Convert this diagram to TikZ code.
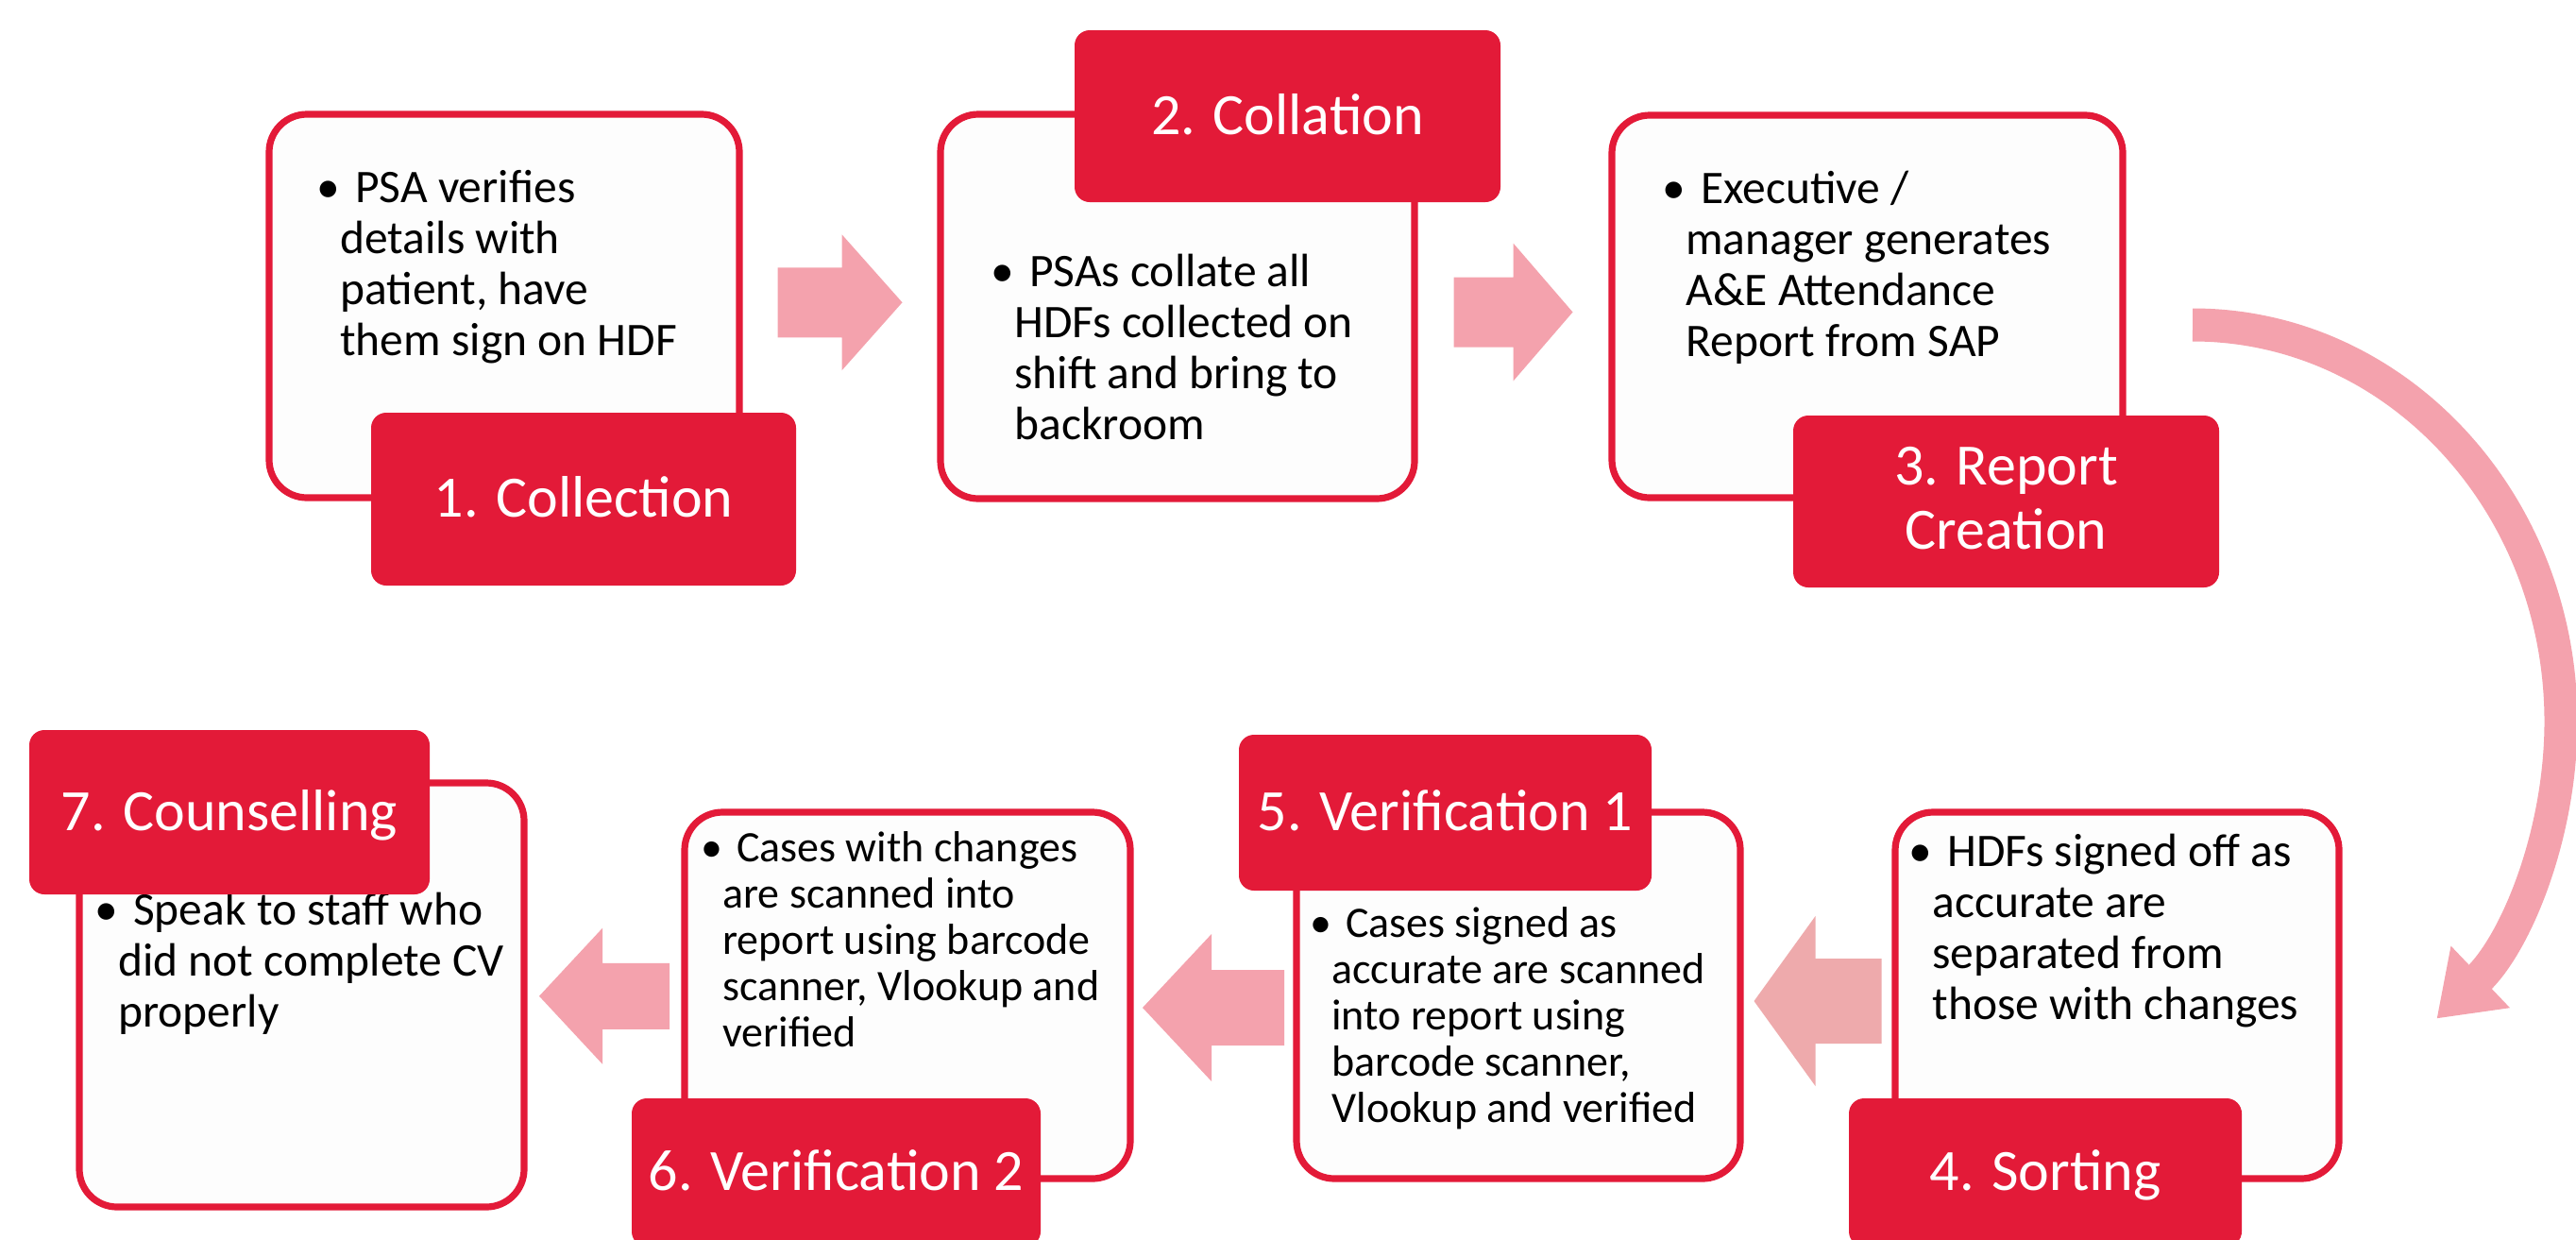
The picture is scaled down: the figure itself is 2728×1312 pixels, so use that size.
\documentclass[tikz,border=0pt]{standalone}
\usepackage{fontspec}
\setmainfont{Carlito}
\usetikzlibrary{calc,fit,arrows.meta}

\definecolor{stepred}{HTML}{E31A38}
\definecolor{flowpink}{HTML}{F4A2AD}
\definecolor{flowpinkb}{HTML}{EEAAAC}
\definecolor{cardfill}{HTML}{FDFDFD}

\tikzset{
  card/.style={draw=stepred, line width=3.6pt, fill=cardfill, rounded corners=20pt, inner sep=0pt},
  steplabel/.style={fill=stepred, rounded corners=8pt, inner sep=0pt},
  steptext/.style={anchor=base, inner sep=0pt, text=white, align=center,
    font=\fontsize{31}{34}\selectfont},
  % multi-line nodes sit on the baseline of their last line
  bodytext/.style={anchor=base west, inner sep=0pt, align=left, text=black},
  bodyL/.style={bodytext, font=\fontsize{24.75}{27}\selectfont},
  bodyS/.style={bodytext, font=\fontsize{23}{24.5}\selectfont},
  % block arrow pointing right: total length / head length / half shaft / half head
  pics/blockarrow/.style args={#1/#2/#3/#4}{code={
    \fill (-#1/2,-#3) -- (#1/2-#2,-#3) -- (#1/2-#2,-#4) -- (#1/2,0)
      -- (#1/2-#2,#4) -- (#1/2-#2,#3) -- (-#1/2,#3) -- cycle;}},
}
\newcommand{\bul}{\llap{\textbullet}\hspace{0.32em}}

\begin{document}
\begin{tikzpicture}[x=0.5pt,y=-0.5pt]
\useasboundingbox (0,0) rectangle (2728,1312);
\clip (0,0) rectangle (2728,1312);
\fill[white] (0,0) rectangle (2728,1312);

% ---- top row: white cards ----
\node[card, fit={(285,121) (783,527)}] (b1) {};
\node[card, fit={(996,121) (1498,528)}] (b2) {};
\node[card, fit={(1707,122) (2248,527)}] (b3) {};

% ---- bottom row: white cards ----
\node[card, fit={(2007,860) (2477,1248)}] (b4) {};
\node[card, fit={(1373,860) (1843,1248)}] (b5) {};
\node[card, fit={(725,860) (1197,1248)}] (b6) {};
\node[card, fit={(84,829) (555,1278)}] (b7) {};

% ---- card texts (positioned by the baseline of the last line) ----
\node[bodyL] (t1) at (360,376) {\bul PSA verifies\\details with\\patient, have\\them sign on HDF};
\node[bodyL] (t2) at (1074,465) {\bul PSAs collate all\\HDFs collected on\\shift and bring to\\backroom};
\node[bodyL] (t3) at (1785,377) {\bul Executive /\\manager generates\\A\&E Attendance\\Report from SAP};
\node[bodyL] (t4) at (2046,1079) {\bul HDFs signed off as\\accurate are\\separated from\\those with changes};
\node[bodyS] (t5) at (1410,1188) {\bul Cases signed as\\accurate are scanned\\into report using\\barcode scanner,\\Vlookup and verified};
\node[bodyS] (t6) at (765,1108) {\bul Cases with changes\\are scanned into\\report using barcode\\scanner, Vlookup and\\verified};
\node[bodyL] (t7) at (125,1087) {\bul Speak to staff who\\did not complete CV\\properly};

% ---- red step labels ----
\node[steplabel, fit={(393,437) (843,620)}] (l1) {};
\node[steplabel, fit={(1138,32) (1589,214)}] (l2) {};
\node[steplabel, fit={(1899,440) (2350,622)}] (l3) {};
\node[steplabel, fit={(1958,1163) (2374,1320)}] (l4) {};
\node[steplabel, fit={(1312,778) (1749,943)}] (l5) {};
\node[steplabel, fit={(669,1163) (1102,1320)}] (l6) {};
\node[steplabel, fit={(31,773) (455,947)}] (l7) {};

\node[steptext] (s1) at ($(l1.center)+(0,19)$) {1. Collection};
\node[steptext] (s2) at ($(l2.center)+(0,19)$) {2. Collation};
\node[steptext] (s3) at ($(l3.center)+(0,50)$) {3. Report\\Creation};
\node[steptext] (s4) at ($(l4.center)+(0,19)$) {4. Sorting};
\node[steptext] (s5) at ($(l5.center)+(0,19)$) {5. Verification 1};
\node[steptext] (s6) at ($(l6.center)+(0,19)$) {6. Verification 2};
\node[steptext] (s7) at ($(l7.center)+(0,19)$) {7. Counselling};

% ---- block arrows between cards ----
\pic[flowpink] at ($(b1.east)!0.5!(b2.west)+(0,-4)$) {blockarrow=132/64/37/72};
\pic[flowpink] at ($(b2.east)!0.5!(b3.west)+(0,6)$) {blockarrow=126/63/37/73};
\pic[flowpinkb, rotate=180] at ($(b4.west)!0.5!(b5.east)+(0,6)$) {blockarrow=135/65/45/90};
\pic[flowpink, rotate=180] at ($(b5.west)!0.5!(b6.east)+(0,13)$) {blockarrow=150/73/40/78};
\pic[flowpink, rotate=180] at ($(b6.west)!0.5!(b7.east)+(0,1)$) {blockarrow=138/67/35/72};

% ---- curved arrow from step 3 down to step 4 ----
\coordinate (cstart) at (2322,344);
\draw[flowpink, line width=17.5pt, -{Triangle[length=32pt,width=43pt]}]
  (cstart) arc[start angle=-90, end angle=48.5, x radius=390, y radius=420];
\end{tikzpicture}
\end{document}
